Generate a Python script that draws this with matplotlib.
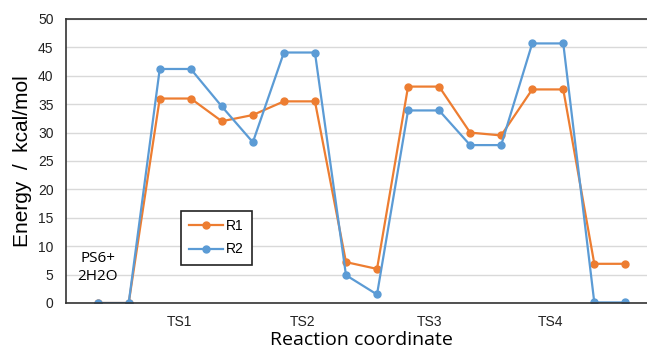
import numpy as np
import matplotlib.pyplot as plt

# energy profile (kcal/mol) along the reaction coordinate
steps = np.arange(18)
r1 = [0, 0, 36.0, 36.0, 32.0, 33.1, 35.5, 35.5, 7.2, 6.0,
      38.1, 38.1, 30.0, 29.5, 37.6, 37.6, 6.9, 6.9]
r2 = [0, 0, 41.2, 41.2, 34.6, 28.3, 44.1, 44.1, 4.9, 1.5,
      33.9, 33.9, 27.8, 27.8, 45.7, 45.7, 0.1, 0.1]
ts_pos = [2.65, 6.6, 10.7, 14.6]
ts_labels = ['TS1', 'TS2', 'TS3', 'TS4']

fig = plt.figure(figsize=(6.47, 3.51), dpi=100)
ax = fig.add_axes([66 / 647, 1 - 303 / 351, 591 / 647, 284 / 351])

ax.plot(steps, r1, color='#ED7D31', lw=1.6, marker='o', ms=5, label='R1')
ax.plot(steps, r2, color='#5B9BD5', lw=1.6, marker='o', ms=5, label='R2')

ax.set_xlim(-1.02, 18.02)
ax.set_ylim(0, 50)
ax.set_yticks(np.arange(0, 51, 5))
ax.set_xticks(ts_pos, ts_labels)
ax.grid(axis='y', color='#D9D9D9', lw=1)
ax.set_axisbelow(True)
ax.tick_params(length=0, labelsize=10, colors='#222222')
ax.tick_params(axis='x', pad=9)
ax.tick_params(axis='y', pad=9)
for s in ['left', 'bottom', 'top']:
    ax.spines[s].set_color('#333333')
    ax.spines[s].set_linewidth(1.2)
ax.spines['right'].set_visible(False)
for lab in ax.get_xticklabels() + ax.get_yticklabels():
    lab.set_family('Liberation Sans')

ax.text(0, 6.3, 'PS6+\n2H2O', ha='center', va='center', fontsize=11,
        family='Open Sans', linespacing=1.3)

ax.set_ylabel('Energy  /  kcal/mol', fontsize=15, family='Liberation Sans', labelpad=4)
fig.text(361 / 647, 1 - 340 / 351, 'Reaction coordinate', ha='center', va='center',
         fontsize=14, family='Open Sans')

leg = ax.legend(loc='upper left', bbox_to_anchor=(181 / 647, 1 - 211 / 351),
                bbox_transform=fig.transFigure, fancybox=False, framealpha=1,
                edgecolor='#222222', fontsize=10, handlelength=2.4, borderpad=0.6,
                labelspacing=0.65, handletextpad=0.2, borderaxespad=0)
leg.get_frame().set_linewidth(1.2)
for t in leg.get_texts():
    t.set_family('Liberation Sans')

fig.savefig('out.png', dpi=100)
